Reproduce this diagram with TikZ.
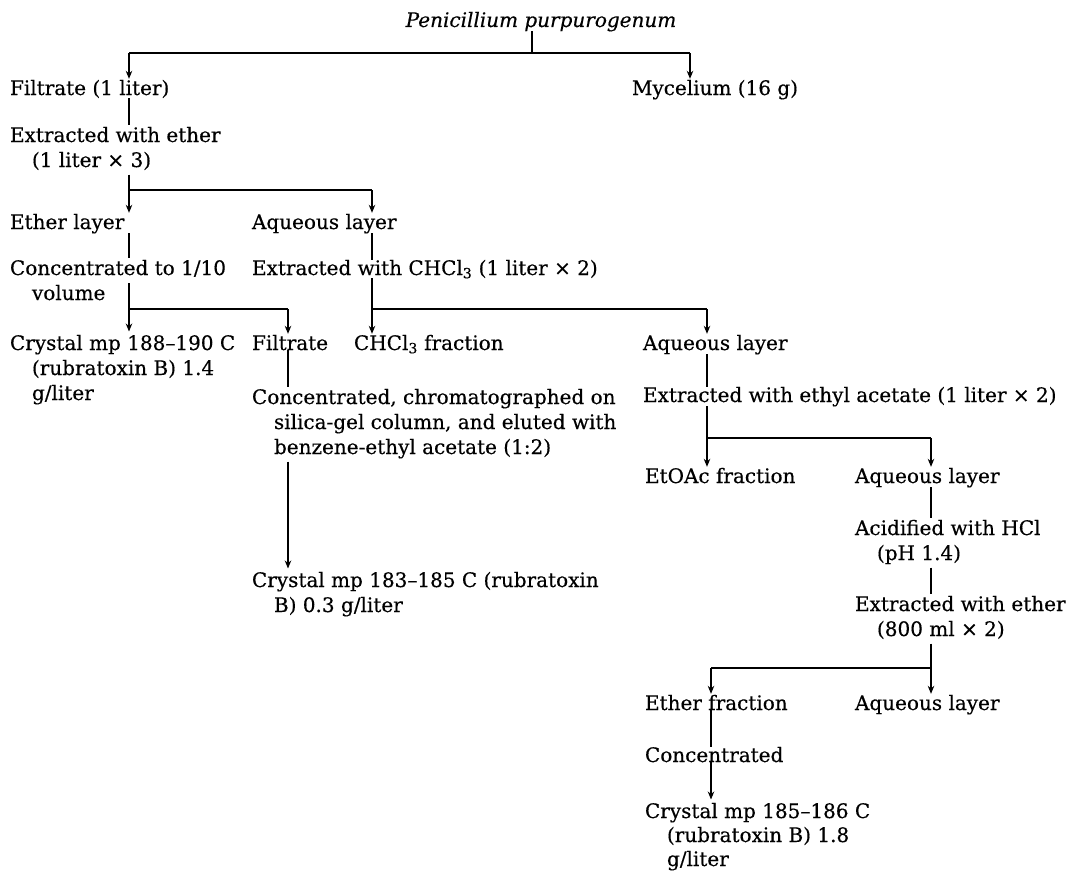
\documentclass[tikz,border=0pt]{standalone}
\usepackage{fontspec}
\setmainfont{DejaVu Serif}[FakeBold=0.4]
\usetikzlibrary{arrows.meta,calc}
\newcommand\mlines[1]{\begin{tabular}[t]{@{}l@{}}#1\end{tabular}}
\newcommand\ind{\hspace*{22pt}}
\begin{document}
\begin{tikzpicture}[x=1pt,y=-1pt,
  lbl/.style={anchor=base west,inner sep=0pt,outer sep=0pt,font=\fontsize{20}{25}\selectfont},
  ln/.style={line width=1.2pt},
  arr/.style={ln,-{Stealth[length=8pt,width=6.5pt]},shorten >=1pt}]
\useasboundingbox[fill=white] (0,0) rectangle (1075,870);

% nodes
\node[lbl,anchor=base,font=\fontsize{20}{25}\selectfont\itshape] (title) at (541,27) {Penicillium purpurogenum};
\node[lbl] (filt) at (10,95) {Filtrate (1 liter)};
\node[lbl] (myc) at (632,95) {Mycelium (16 g)};
\node[lbl] (ext1) at (10,142) {\mlines{Extracted with ether\\ \ind(1 liter × 3)}};
\node[lbl] (ether) at (10,229) {Ether layer};
\node[lbl] (aq1) at (252,229) {Aqueous layer};
\node[lbl] (conc1) at (10,275) {\mlines{Concentrated to 1/10\\ \ind volume}};
\node[lbl] (ext2) at (252,275) {Extracted with CHCl\textsubscript{3} (1 liter × 2)};
\node[lbl] (cry1) at (10,350) {\mlines{Crystal mp 188--190 C\\ \ind(rubratoxin B) 1.4\\ \ind g/liter}};
\node[lbl] (filt2) at (252,350) {Filtrate};
\node[lbl] (chcl) at (354,350) {CHCl\textsubscript{3} fraction};
\node[lbl] (aq2) at (643,350) {Aqueous layer};
\node[lbl] (conc2) at (252,404) {\mlines{Concentrated, chromatographed on\\ \ind silica-gel column, and eluted with\\ \ind benzene-ethyl acetate (1:2)}};
\node[lbl] (cry2) at (252,587) {\mlines{Crystal mp 183--185 C (rubratoxin\\ \ind B) 0.3 g/liter}};
\node[lbl] (ext3) at (643,402) {Extracted with ethyl acetate (1 liter × 2)};
\node[lbl] (etoac) at (645,483) {EtOAc fraction};
\node[lbl] (aq3) at (855,483) {Aqueous layer};
\node[lbl] (acid) at (855,535) {\mlines{Acidified with HCl\\ \ind(pH 1.4)}};
\node[lbl] (ext4) at (855,611) {\mlines{Extracted with ether\\ \ind(800 ml × 2)}};
\node[lbl] (ethf) at (645,710) {Ether fraction};
\node[lbl] (aq4) at (855,710) {Aqueous layer};
\node[lbl] (conc3) at (645,762) {Concentrated};
\node[lbl] (cry3) at (645,818) {\mlines{Crystal mp 185--186 C\\[-1pt] \ind(rubratoxin B) 1.8\\[-1pt] \ind g/liter}};

% junction coordinates
\coordinate (t0) at (532,53);
\coordinate (t0l) at (129,53);
\coordinate (t0r) at (690,53);
\coordinate (cA) at (129,0);
\coordinate (s1l) at (129,190);
\coordinate (s1r) at (372,190);
\coordinate (s2l) at (129,309);
\coordinate (s2r) at (288,309);
\coordinate (s3l) at (372,309);
\coordinate (s3r) at (707,309);
\coordinate (s4l) at (707,438);
\coordinate (s4r) at (931,438);
\coordinate (s5l) at (711,668);
\coordinate (s5r) at (931,668);

% connectors
\draw[ln] (title.south -| t0) -- (t0);
\draw[ln] (t0l) -- (t0r);
\draw[arr] (t0l) -- (t0l |- filt.north);
\draw[arr] (t0r) -- (t0r |- myc.north);
\draw[ln] (filt.south -| cA) -- (ext1.north -| cA);
\draw[ln] (ext1.south -| s1l) -- (s1l) -- (s1r);
\draw[arr] (s1l) -- (s1l |- ether.north);
\draw[arr] (s1r) -- (s1r |- aq1.north);
\draw[ln] (ether.south -| cA) -- (conc1.north -| cA);
\draw[ln] (aq1.south -| s1r) -- (ext2.north -| s1r);
\draw[ln] ($(conc1.base -| s2l)+(0,8)$) -- (s2l) -- (s2r);
\draw[arr] (s2l) -- (s2l |- cry1.north);
\draw[arr] (s2r) -- (s2r |- filt2.north);
\draw[ln] (ext2.south -| s3l) -- (s3l) -- (s3r);
\draw[arr] (s3l) -- (s3l |- chcl.north);
\draw[arr] (s3r) -- (s3r |- aq2.north);
\draw[ln] (filt2.south -| s2r) -- (conc2.north -| s2r);
\draw[arr] (conc2.south -| s2r) -- (cry2.north -| s2r);
\draw[ln] (aq2.south -| s3r) -- (ext3.north -| s3r);
\draw[ln] (ext3.south -| s4l) -- (s4l) -- (s4r);
\draw[arr] (s4l) -- (s4l |- etoac.north);
\draw[arr] (s4r) -- (s4r |- aq3.north);
\draw[ln] (aq3.south -| s4r) -- (acid.north -| s4r);
\draw[ln] (acid.south -| s4r) -- (ext4.north -| s4r);
\draw[ln] (ext4.south -| s5r) -- (s5r) -- (s5l);
\draw[arr] (s5l) -- (s5l |- ethf.north);
\draw[arr] (s5r) -- (s5r |- aq4.north);
\draw[ln] (ethf.south -| s5l) -- (conc3.north -| s5l);
\draw[arr] (conc3.south -| s5l) -- (cry3.north -| s5l);
\end{tikzpicture}
\end{document}
